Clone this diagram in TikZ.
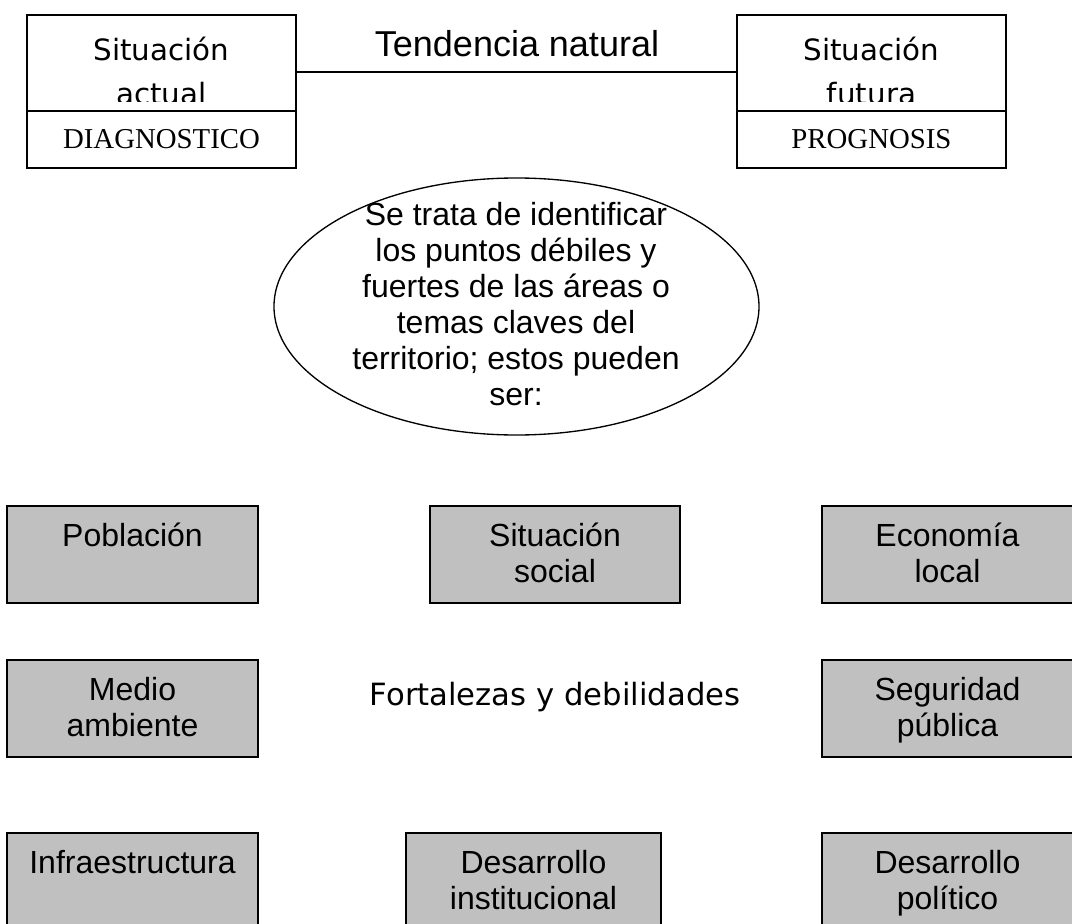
\documentclass[tikz,border=0pt]{standalone}
\usepackage{fontspec}
\setmainfont{Liberation Sans}
\newfontfamily\comicf{DejaVu Sans}
\newfontfamily\serf{Liberation Serif}
\usetikzlibrary{shapes.geometric}
\definecolor{boxgray}{HTML}{C0C0C0}
\newcommand\fbody{\fontsize{24pt}{27pt}\selectfont}
\newcommand\fhead{\fontsize{27pt}{31pt}\selectfont}
\newcommand\fcomic{\comicf\fontsize{22pt}{33pt}\selectfont}
\newcommand\fcomicB{\comicf\fontsize{23pt}{27pt}\selectfont}
\newcommand\fser{\serf\fontsize{21.6pt}{26pt}\selectfont}
\tikzset{
  frame/.style={draw=black, line width=1.2pt, inner sep=0pt},
  topbox/.style={frame, minimum width=269*0.75pt},
  graybox/.style={frame, fill=boxgray, minimum width=251*0.75pt, minimum height=97*0.75pt},
  lbl/.style={anchor=north, align=center, inner sep=0pt, font=\fbody},
  comicT/.style={anchor=north, align=center, inner sep=0pt, font=\fcomic},
  conn/.style={draw=black, line width=1pt},
}
\begin{document}
\begin{tikzpicture}[x=0.75pt,y=-0.75pt]
\clip (0,0) rectangle (1072,924);
\fill[white] (0,0) rectangle (1072,924);

% top left: diagnostico
\begin{scope}
  \clip (27,15) rectangle (296,102);
  \node[comicT] (actT) at (161.5,37) {Situación\\actual};
\end{scope}
\node[topbox, minimum height=96*0.75pt] (diagTop) at (161.5,63) {};
\node[topbox, minimum height=57*0.75pt, font=\fser] (diagBot) at (161.5,139.5) {DIAGNOSTICO};

% top right: prognosis
\begin{scope}
  \clip (737,15) rectangle (1006,102);
  \node[comicT] (futT) at (871.5,37) {Situación\\futura};
\end{scope}
\node[topbox, minimum height=96*0.75pt] (progTop) at (871.5,63) {};
\node[topbox, minimum height=57*0.75pt, font=\fser] (progBot) at (871.5,139.5) {PROGNOSIS};

% connector
\draw[conn] ([yshift=-6.75pt]diagTop.east) -- ([yshift=-6.75pt]progTop.west);
\node[font=\fhead, inner sep=0pt] (tend) at (517,44) {Tendencia natural};

% ellipse
\node[ellipse, draw=black, line width=1pt, minimum width=485*0.75pt, minimum height=257*0.75pt, inner sep=0pt] (ell) at (516.5,306.5) {};
\node[lbl] (ellT) at (516,202) {Se trata de identificar\\los puntos débiles y\\fuertes de las áreas o\\temas claves del\\territorio; estos pueden\\ser:};

% row 1
\node[graybox] (pob) at (132.5,554.5) {};
\node[lbl] (pobT) at (pob.center |- 0,523) {Población};
\node[graybox, minimum width=250*0.75pt] (soc) at (555,554.5) {};
\node[lbl] (socT) at (soc.center |- 0,523) {Situación\\social};
\node[graybox] (eco) at (947.5,554.5) {};
\node[lbl] (ecoT) at (eco.center |- 0,523) {Economía\\local};

% row 2
\node[graybox] (med) at (132.5,708.5) {};
\node[lbl] (medT) at (med.center |- 0,677) {Medio\\ambiente};
\node[font=\fcomicB, anchor=base, inner sep=0pt] (fort) at (555,705) {Fortalezas y debilidades};
\node[graybox] (seg) at (947.5,708.5) {};
\node[lbl] (segT) at (seg.center |- 0,677) {Seguridad\\pública};

% row 3
\node[graybox] (inf) at (132.5,881.5) {};
\node[lbl] (infT) at (inf.center |- 0,850) {Infraestructura};
\node[graybox, minimum width=255*0.75pt] (ins) at (533.5,881.5) {};
\node[lbl] (insT) at (ins.center |- 0,850) {Desarrollo\\institucional};
\node[graybox] (pol) at (947.5,881.5) {};
\node[lbl] (polT) at (pol.center |- 0,850) {Desarrollo\\político};
\end{tikzpicture}
\end{document}
